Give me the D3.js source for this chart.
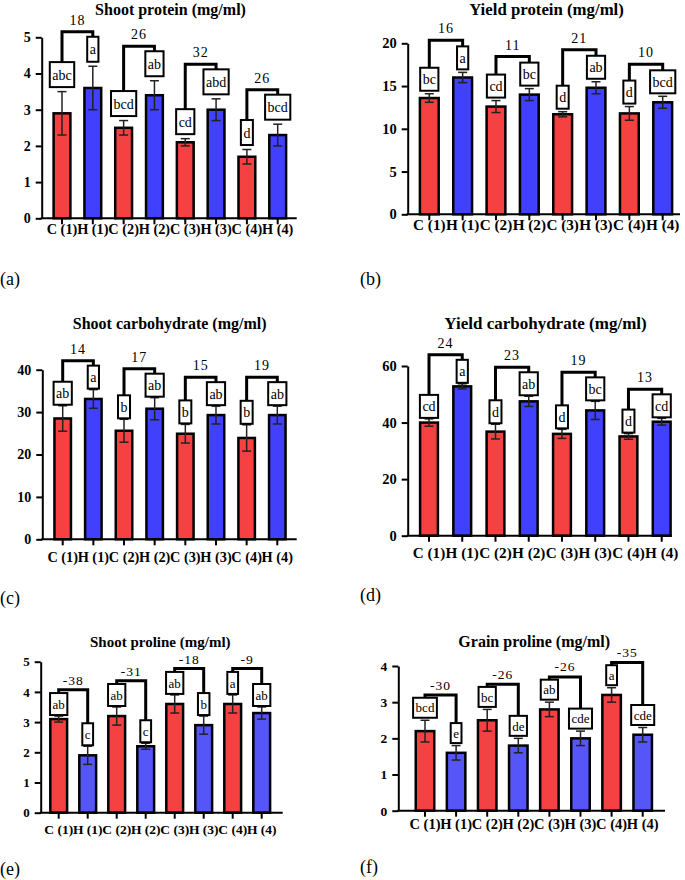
<!DOCTYPE html>
<html><head><meta charset="utf-8">
<script src="https://cdn.jsdelivr.net/npm/d3@7"></script>
<style>body{margin:0;background:#fff}</style>
</head><body>
<script>
// ---------- DATA ----------
const groups = ["C (1)", "H (1)", "C (2)", "H (2)", "C (3)", "H (3)", "C (4)", "H (4)"];

const shootProtein = [2.9, 3.6, 2.5, 3.4, 2.1, 3.0, 1.7, 2.3];
const shootProteinErr = [0.6, 0.6, 0.2, 0.4, 0.1, 0.3, 0.2, 0.3];
const shootProteinLetters = ["abc", "a", "bcd", "ab", "cd", "abd", "d", "bcd"];
const shootProteinPct = ["18", "26", "32", "26"];
const shootProteinTicks = [0, 1, 2, 3, 4, 5];

const yieldProtein = [13.6, 16.0, 12.6, 14.0, 11.7, 14.8, 11.8, 13.1];
const yieldProteinErr = [0.5, 0.6, 0.7, 0.7, 0.3, 0.7, 0.8, 0.7];
const yieldProteinLetters = ["bc", "a", "cd", "bc", "d", "ab", "d", "bcd"];
const yieldProteinPct = ["16", "11", "21", "10"];
const yieldProteinTicks = [0, 5, 10, 15, 20];

const shootCarb = [28.5, 33.1, 25.6, 30.8, 24.9, 29.3, 23.9, 29.3];
const shootCarbErr = [3.0, 2.2, 2.7, 2.6, 2.2, 2.1, 3.1, 2.1];
const shootCarbLetters = ["ab", "a", "b", "ab", "b", "ab", "b", "ab"];
const shootCarbPct = ["14", "17", "15", "19"];
const shootCarbTicks = [0, 10, 20, 30, 40];

const yieldCarb = [40.0, 52.8, 36.8, 47.5, 36.0, 44.3, 35.1, 40.3];
const yieldCarbErr = [1.3, 0.9, 2.6, 1.8, 1.6, 3.2, 1.0, 1.2];
const yieldCarbLetters = ["cd", "a", "d", "ab", "d", "bc", "d", "cd"];
const yieldCarbPct = ["24", "23", "19", "13"];
const yieldCarbTicks = [0, 20, 40, 60];

const shootProline = [3.1, 1.9, 3.2, 2.2, 3.6, 2.9, 3.6, 3.3];
const shootProlineErr = [0.1, 0.3, 0.3, 0.1, 0.3, 0.3, 0.3, 0.2];
const shootProlineLetters = ["ab", "c", "ab", "c", "ab", "b", "a", "ab"];
const shootProlinePct = ["-38", "-31", "-18", "-9"];
const shootProlineTicks = [0, 1, 2, 3, 4, 5];

const grainProline = [2.2, 1.6, 2.5, 1.8, 2.8, 2.0, 3.2, 2.1];
const grainProlineErr = [0.3, 0.2, 0.3, 0.2, 0.2, 0.2, 0.2, 0.2];
const grainProlineLetters = ["bcd", "e", "bc", "de", "ab", "cde", "a", "cde"];
const grainProlinePct = ["-30", "-26", "-26", "-35"];
const grainProlineTicks = [0, 1, 2, 3, 4];

// ---------- STYLE / LAYOUT ----------
const FONT = '"Liberation Serif","Times New Roman",serif';
const RED = "#f54141";
const BAR_STROKE = 2.5;

const svg = d3.select("body").append("svg")
  .attr("width", 685).attr("height", 880)
  .style("background", "#fff");

function drawPanel(cfg, L) {
  const g = svg.append("g");
  const y = d3.scaleLinear().domain([0, cfg.ticks[cfg.ticks.length - 1]]).range([L.y0, L.yTop]);
  const step = (L.c1 - L.c0) / (groups.length - 1);
  const bw = L.barW - BAR_STROKE;
  const pi = 1 - bw / step;
  const x = d3.scaleBand().domain(groups)
    .range([L.c0 - step / 2, L.c1 + step / 2])
    .paddingInner(pi).paddingOuter(pi / 2);
  const cx = d => x(d) + x.bandwidth() / 2;

  // title
  g.append("text").attr("x", L.titleX).attr("y", L.titleY)
    .attr("text-anchor", "middle").attr("font-family", FONT)
    .attr("font-weight", "bold").attr("font-size", L.titleSize)
    .text(cfg.title);

  // bars
  g.selectAll("rect.bar").data(groups).join("rect").attr("class", "bar")
    .attr("x", d => x(d))
    .attr("y", (d, i) => y(cfg.values[i]))
    .attr("width", x.bandwidth())
    .attr("height", (d, i) => y(0) - y(cfg.values[i]))
    .attr("fill", (d, i) => i % 2 === 0 ? RED : L.blue)
    .attr("stroke", "#000").attr("stroke-width", BAR_STROKE);

  // error bars
  const eb = g.append("g").attr("stroke", "#222").attr("stroke-width", 1.5);
  groups.forEach((d, i) => {
    const lo = y(cfg.values[i] - cfg.errors[i]), hi = y(cfg.values[i] + cfg.errors[i]);
    const c = cx(d);
    eb.append("line").attr("x1", c).attr("x2", c).attr("y1", lo).attr("y2", hi);
    eb.append("line").attr("x1", c - 4.5).attr("x2", c + 4.5).attr("y1", lo).attr("y2", lo);
    eb.append("line").attr("x1", c - 4.5).attr("x2", c + 4.5).attr("y1", hi).attr("y2", hi);
  });

  // y axis
  const ya = g.append("g").attr("transform", `translate(${L.axisX},0)`)
    .call(d3.axisLeft(y).tickValues(cfg.ticks).tickFormat(d3.format("d"))
      .tickSize(6).tickSizeOuter(0).tickPadding(5));
  ya.selectAll("path,line").attr("stroke", "#000").attr("stroke-width", 2);
  ya.selectAll("text").attr("font-family", FONT).attr("font-weight", "bold")
    .attr("font-size", L.yLabSize).attr("fill", "#000");

  // x axis
  const xa = g.append("g").attr("transform", `translate(0,${L.y0})`)
    .call(d3.axisBottom(x).tickSize(6).tickSizeOuter(0));
  xa.select("path.domain").remove();
  xa.selectAll("line").attr("stroke", "#000").attr("stroke-width", 2);
  xa.selectAll("text").attr("font-family", FONT).attr("font-weight", "bold")
    .attr("font-size", L.labSize).attr("fill", "#000")
    .attr("y", L.xLab - L.y0).attr("dy", 0);
  g.append("line").attr("x1", L.axisX - 1).attr("x2", L.xEnd)
    .attr("y1", L.y0).attr("y2", L.y0)
    .attr("stroke", "#000").attr("stroke-width", 2);

  // letter boxes
  const boxTops = [];
  const bxg = g.append("g");
  groups.forEach((d, i) => {
    const c = cx(d);
    const bottom = y(cfg.values[i] + cfg.errors[i]) - L.gap;
    const top = bottom - L.boxH;
    boxTops.push(top);
    const r = bxg.append("rect");
    const t = bxg.append("text").attr("x", c).attr("y", top + L.boxH / 2 + L.boxFont * 0.36)
      .attr("text-anchor", "middle").attr("font-family", FONT)
      .attr("font-size", L.boxFont).text(cfg.letters[i]);
    const w = t.node().getComputedTextLength() + 5;
    r.attr("x", c - w / 2).attr("y", top).attr("width", w).attr("height", L.boxH)
      .attr("fill", "#fff").attr("stroke", "#000").attr("stroke-width", 2);
  });

  // brackets
  cfg.pcts.forEach((p, k) => {
    const a = 2 * k, b = 2 * k + 1;
    const xl = cx(groups[a]), xr = cx(groups[b]);
    const top = Math.min(boxTops[a], boxTops[b]) - L.brGap;
    g.append("path")
      .attr("d", `M${xl},${boxTops[a]}V${top}H${xr}V${boxTops[b]}`)
      .attr("fill", "none").attr("stroke", "#000").attr("stroke-width", 3);
    g.append("text").attr("x", (xl + xr) / 2).attr("y", top - L.numOff)
      .attr("text-anchor", "middle").attr("font-family", FONT)
      .attr("font-size", L.numSize).attr("letter-spacing", 1).text(p);
  });

  // panel label
  svg.append("text").attr("x", L.lx).attr("y", L.ly)
    .attr("font-family", FONT).attr("font-size", 18).text(L.label);
}

drawPanel(
  { title: "Shoot protein (mg/ml)", values: shootProtein, errors: shootProteinErr,
    letters: shootProteinLetters, pcts: shootProteinPct, ticks: shootProteinTicks },
  { axisX: 41.7, xEnd: 296.7, y0: 218.3, yTop: 37.3, c0: 62, c1: 277.7, barW: 19.3,
    titleX: 170.5, titleY: 14.5, titleSize: 16, xLab: 234.5, labSize: 14.3, yLabSize: 14,
    boxH: 25, gap: 4.5, brGap: 5, numOff: 7, numSize: 14, boxFont: 14,
    blue: "#4040fd", label: "(a)", lx: 0, ly: 285 });

drawPanel(
  { title: "Yield protein (mg/ml)", values: yieldProtein, errors: yieldProteinErr,
    letters: yieldProteinLetters, pcts: yieldProteinPct, ticks: yieldProteinTicks },
  { axisX: 407.7, xEnd: 680, y0: 214.3, yTop: 43.3, c0: 429.3, c1: 662.7, barW: 21.3,
    titleX: 546.5, titleY: 15, titleSize: 16.8, xLab: 230.5, labSize: 15.2, yLabSize: 14.5,
    boxH: 23, gap: 3, brGap: 6, numOff: 7, numSize: 14, boxFont: 14,
    blue: "#4040fd", label: "(b)", lx: 360, ly: 285 });

drawPanel(
  { title: "Shoot carbohydrate (mg/ml)", values: shootCarb, errors: shootCarbErr,
    letters: shootCarbLetters, pcts: shootCarbPct, ticks: shootCarbTicks },
  { axisX: 42.3, xEnd: 296.7, y0: 539.3, yTop: 369.7, c0: 62.7, c1: 277.3, barW: 19,
    titleX: 169.7, titleY: 329.3, titleSize: 16, xLab: 562, labSize: 14.3, yLabSize: 14,
    boxH: 23, gap: 1, brGap: 5, numOff: 7, numSize: 14, boxFont: 14,
    blue: "#4040fd", label: "(c)", lx: 0, ly: 604 });

drawPanel(
  { title: "Yield carbohydrate (mg/ml)", values: yieldCarb, errors: yieldCarbErr,
    letters: yieldCarbLetters, pcts: yieldCarbPct, ticks: yieldCarbTicks },
  { axisX: 407.7, xEnd: 671.7, y0: 535.7, yTop: 366, c0: 429, c1: 661.7, barW: 20.3,
    titleX: 545.5, titleY: 329.3, titleSize: 17, xLab: 558.5, labSize: 15.2, yLabSize: 14.5,
    boxH: 23, gap: 1, brGap: 5, numOff: 7, numSize: 14, boxFont: 14,
    blue: "#4040fd", label: "(d)", lx: 360, ly: 601 });

drawPanel(
  { title: "Shoot proline (mg/ml)", values: shootProline, errors: shootProlineErr,
    letters: shootProlineLetters, pcts: shootProlinePct, ticks: shootProlineTicks },
  { axisX: 40.7, xEnd: 282.7, y0: 812.7, yTop: 661.7, c0: 58.7, c1: 261.7, barW: 19.3,
    titleX: 160.3, titleY: 646.7, titleSize: 15, xLab: 834, labSize: 13.5, yLabSize: 13,
    boxH: 22, gap: 1, brGap: 3.3, numOff: 5, numSize: 13.5, boxFont: 13,
    blue: "#5656f8", label: "(e)", lx: 0, ly: 875 });

drawPanel(
  { title: "Grain proline (mg/ml)", values: grainProline, errors: grainProlineErr,
    letters: grainProlineLetters, pcts: grainProlinePct, ticks: grainProlineTicks },
  { axisX: 398.3, xEnd: 665, y0: 810.7, yTop: 666, c0: 425, c1: 642.7, barW: 21,
    titleX: 534.2, titleY: 646.7, titleSize: 16, xLab: 829, labSize: 14.5, yLabSize: 13.5,
    boxH: 20, gap: 2.5, brGap: 2.7, numOff: 5.5, numSize: 13.5, boxFont: 13,
    blue: "#5656f8", label: "(f)", lx: 360, ly: 873 });
</script>
</body></html>
